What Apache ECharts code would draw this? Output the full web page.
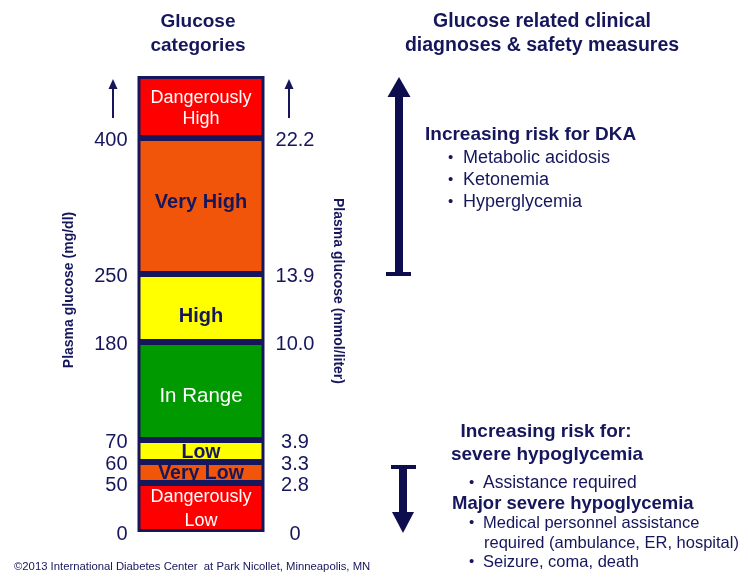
<!DOCTYPE html>
<html>
<head>
<meta charset="utf-8">
<script src="https://cdn.jsdelivr.net/npm/echarts@6/dist/echarts.min.js"></script>
<style>
html,body{margin:0;padding:0;background:#fff;}
#chart{width:748px;height:582px;}
</style>
</head>
<body>
<div id="chart"></div>
<script>
// ---- data ----
const categories = ['Dangerously Low', 'Very Low', 'Low', 'In Range', 'High', 'Very High', 'Dangerously High'];
const barLabels = ['Dangerously\nLow', 'Very Low', 'Low', 'In Range', 'High', 'Very High', 'Dangerously\nHigh'];
const mgdlTicks = ['0', '50', '60', '70', '180', '250', '400'];
const mmolTicks = ['0', '2.8', '3.3', '3.9', '10.0', '13.9', '22.2'];

// ---- layout / style (schematic, non-linear display scale) ----
const bandSpan = [49, 21, 22, 98, 68, 136, 62];
const bandColors = ['#FF0000', '#F0550A', '#FFFF00', '#009900', '#FFFF00', '#F0550A', '#FF0000'];
const labelStyles = [
  {color: '#fff', fontWeight: 'normal', fontSize: 18, lineHeight: 24, offset: [0, 2]},
  {color: '#16165C', fontWeight: 'bold', fontSize: 19.5, lineHeight: 21, offset: [0, 1]},
  {color: '#16165C', fontWeight: 'bold', fontSize: 19.5, lineHeight: 21, offset: [0, 2]},
  {color: '#fff', fontWeight: 'normal', fontSize: 20.5, lineHeight: 21, offset: [0, 5]},
  {color: '#16165C', fontWeight: 'bold', fontSize: 20, lineHeight: 21, offset: [0, 8]},
  {color: '#16165C', fontWeight: 'bold', fontSize: 20, lineHeight: 21, offset: [0, -4]},
  {color: '#fff', fontWeight: 'normal', fontSize: 18, lineHeight: 21, offset: [0, 2]}
];
const NAVY = '#16165C';
const ARROW = '#0E0E4E';
const FONT = '"Liberation Sans", Arial, sans-serif';

const bounds = [];
let acc = 0;
for (let i = 0; i < bandSpan.length; i++) { bounds.push(acc); acc += bandSpan[i]; }
const total = acc;

const chart = echarts.init(document.getElementById('chart'));

const series = categories.map((name, i) => ({
  name: name,
  type: 'bar',
  stack: 'glucose',
  yAxisIndex: 0,
  barWidth: 127,
  data: [bandSpan[i]],
  itemStyle: {color: bandColors[i], borderColor: NAVY, borderWidth: 3},
  label: {
    show: true,
    position: 'inside',
    formatter: barLabels[i],
    fontFamily: FONT,
    lineHeight: labelStyles[i].lineHeight,
    offset: labelStyles[i].offset,
    color: labelStyles[i].color,
    fontWeight: labelStyles[i].fontWeight,
    fontSize: labelStyles[i].fontSize
  },
  emphasis: {disabled: true},
  silent: true
}));

function txt(x, y, text, opts) {
  return {
    type: 'text', x: x, y: y, silent: true,
    style: Object.assign({text: text, fill: NAVY, font: '18px ' + FONT, textAlign: 'left', textVerticalAlign: 'middle'}, opts || {})
  };
}
const SMALL = {font: '16.5px ' + FONT};
const BUL = {font: '15px ' + FONT};

const graphics = [
  // titles
  txt(198, 22, 'Glucose', {font: 'bold 19px ' + FONT, textAlign: 'center'}),
  txt(198, 46, 'categories', {font: 'bold 19px ' + FONT, textAlign: 'center'}),
  txt(542, 22, 'Glucose related clinical', {font: 'bold 19.5px ' + FONT, textAlign: 'center'}),
  txt(542, 46, 'diagnoses & safety measures', {font: 'bold 19.5px ' + FONT, textAlign: 'center'}),
  // axis names
  Object.assign(txt(69, 290, 'Plasma glucose (mg/dl)', {font: 'bold 14px ' + FONT, textAlign: 'center'}), {rotation: Math.PI / 2}),
  Object.assign(txt(337.5, 291, 'Plasma glucose (mmol/liter)', {font: 'bold 14px ' + FONT, textAlign: 'center'}), {rotation: -Math.PI / 2}),
  // small up arrows
  {type: 'line', silent: true, shape: {x1: 113, y1: 118, x2: 113, y2: 86}, style: {stroke: NAVY, lineWidth: 2}},
  {type: 'polygon', silent: true, shape: {points: [[113, 79], [108.5, 89], [117.5, 89]]}, style: {fill: NAVY}},
  {type: 'line', silent: true, shape: {x1: 289, y1: 118, x2: 289, y2: 86}, style: {stroke: NAVY, lineWidth: 2}},
  {type: 'polygon', silent: true, shape: {points: [[289, 79], [284.5, 89], [293.5, 89]]}, style: {fill: NAVY}},
  // big up arrow
  {type: 'rect', silent: true, shape: {x: 395, y: 95, width: 8, height: 179}, style: {fill: ARROW}},
  {type: 'polygon', silent: true, shape: {points: [[399, 77], [387.5, 97], [410.5, 97]]}, style: {fill: ARROW}},
  {type: 'rect', silent: true, shape: {x: 386, y: 272, width: 25, height: 4}, style: {fill: ARROW}},
  // down arrow
  {type: 'rect', silent: true, shape: {x: 391, y: 465, width: 25, height: 4}, style: {fill: ARROW}},
  {type: 'rect', silent: true, shape: {x: 399, y: 467, width: 8, height: 47}, style: {fill: ARROW}},
  {type: 'polygon', silent: true, shape: {points: [[392, 512], [414, 512], [403, 533]]}, style: {fill: ARROW}},
  // DKA block
  txt(425, 135, 'Increasing risk for DKA', {font: 'bold 19px ' + FONT}),
  txt(448, 158, '•', BUL),
  txt(463, 158, 'Metabolic acidosis'),
  txt(448, 180, '•', BUL),
  txt(463, 180, 'Ketonemia'),
  txt(448, 202, '•', BUL),
  txt(463, 202, 'Hyperglycemia'),
  // hypoglycemia block
  txt(546, 432, 'Increasing risk for:', {font: 'bold 19px ' + FONT, textAlign: 'center'}),
  txt(547, 455, 'severe hypoglycemia', {font: 'bold 19px ' + FONT, textAlign: 'center'}),
  txt(469, 483, '•', BUL),
  txt(483, 483, 'Assistance required', {font: '17.5px ' + FONT}),
  txt(452, 504, 'Major severe hypoglycemia', {font: 'bold 18.5px ' + FONT}),
  txt(469, 523, '•', BUL),
  txt(483, 523, 'Medical personnel assistance', SMALL),
  txt(484, 543, 'required (ambulance, ER, hospital)', SMALL),
  txt(469, 562, '•', BUL),
  txt(483, 562, 'Seizure, coma, death', SMALL),
  // footer
  txt(14, 567, '\u00A92013 International Diabetes Center  at Park Nicollet, Minneapolis, MN', {font: '11.3px ' + FONT})
];

const tickRich = {t: {fontFamily: FONT, fontSize: 20, color: NAVY, padding: [5, 0, 0, 0]}};

const option = {
  animation: false,
  backgroundColor: '#fff',
  grid: {left: 137.5, top: 76, width: 127, height: total, containLabel: false},
  xAxis: {type: 'category', data: ['Glucose'], show: false},
  yAxis: [
    {
      type: 'value', position: 'left', min: 0, max: total,
      axisLine: {show: false}, axisTick: {show: false}, splitLine: {show: false},
      axisLabel: {
        customValues: bounds, margin: 10, align: 'right',
        color: NAVY, fontFamily: FONT, fontSize: 20, rich: tickRich,
        formatter: (v) => { const k = bounds.indexOf(v); return k >= 0 ? '{t|' + mgdlTicks[k] + '}' : ''; }
      }
    },
    {
      type: 'value', position: 'right', min: 0, max: total,
      axisLine: {show: false}, axisTick: {show: false}, splitLine: {show: false},
      axisLabel: {
        customValues: bounds, margin: 30.5, align: 'center',
        color: NAVY, fontFamily: FONT, fontSize: 20, rich: tickRich,
        formatter: (v) => { const k = bounds.indexOf(v); return k >= 0 ? '{t|' + mmolTicks[k] + '}' : ''; }
      }
    }
  ],
  series: series,
  graphic: graphics
};

chart.setOption(option);
</script>
</body>
</html>
